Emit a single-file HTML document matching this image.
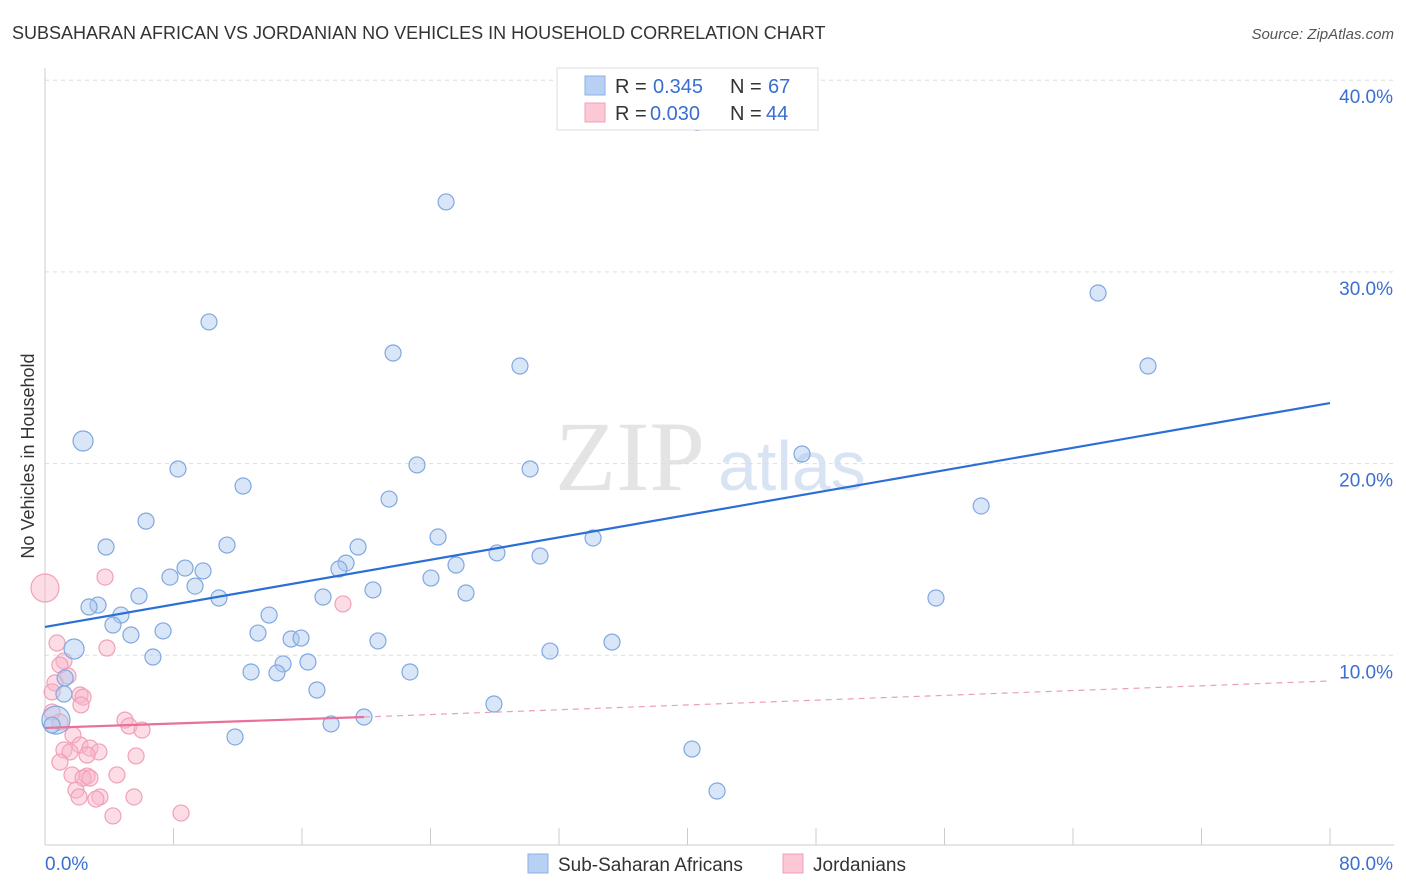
<!DOCTYPE html>
<html><head><meta charset="utf-8"><style>
body{margin:0;background:#fff;font-family:"Liberation Sans",sans-serif;}
svg{display:block}
</style></head><body>
<svg id="chart" width="1406" height="892">
<text x="12" y="39" font-size="18" fill="#333">SUBSAHARAN AFRICAN VS JORDANIAN NO VEHICLES IN HOUSEHOLD CORRELATION CHART</text>
<text x="1394" y="39" font-size="15" fill="#555" font-style="italic" text-anchor="end">Source: ZipAtlas.com</text>
<text x="34" y="456" font-size="18" fill="#333" text-anchor="middle" transform="rotate(-90 34 456)">No Vehicles in Household</text>
<text x="555" y="490" font-size="100" fill="#e4e4e4" font-family="Liberation Serif">ZIP</text>
<text x="718" y="490" font-size="70" fill="#d8e4f4">atlas</text>
<g id="grid"></g><g id="marks"></g>
<g>
<rect x="557" y="68" width="261" height="62" fill="#fff" stroke="#ddd"/>
<rect x="585" y="76" width="20" height="19" fill="#b8d0f4" stroke="#8ab0e8"/>
<text x="615" y="93" font-size="20" fill="#333">R =</text><text x="653" y="93" font-size="20" fill="#3a6fd0">0.345</text>
<text x="730" y="93" font-size="20" fill="#333">N =</text><text x="768" y="93" font-size="20" fill="#3a6fd0">67</text>
<rect x="585" y="103" width="20" height="19" fill="#fcc8d6" stroke="#f0a0b8"/>
<text x="615" y="120" font-size="20" fill="#333">R =</text><text x="650" y="120" font-size="20" fill="#3a6fd0">0.030</text>
<text x="730" y="120" font-size="20" fill="#333">N =</text><text x="766" y="120" font-size="20" fill="#3a6fd0">44</text>
</g>
<g>
<rect x="528" y="854" width="20" height="19" fill="#b8d0f4" stroke="#8ab0e8"/>
<text x="558" y="871" font-size="19" fill="#333">Sub-Saharan Africans</text>
<rect x="783" y="854" width="20" height="19" fill="#fcc8d6" stroke="#f0a0b8"/>
<text x="813" y="871" font-size="19" fill="#333">Jordanians</text>
</g>
</svg>
<script>
const xTicks=[0,8,16,24,32,40,48,56,64,72,80];
const yTicks=[10,20,30,40];
const blueX=[2.37,10.21,24.97,40.6,21.67,29.57,65.56,68.67,8.28,12.33,23.16,30.2,47.13,58.28,21.42,6.29,3.8,11.33,24.47,34.12,19.49,28.14,30.82,18.74,18.3,25.59,8.72,9.84,7.78,24.03,9.34,20.42,26.21,10.83,17.31,5.85,55.47,3.3,2.74,4.73,13.95,4.23,7.35,5.35,13.26,15.32,15.94,20.73,35.3,31.44,1.81,6.72,14.82,16.37,12.83,14.44,22.72,1.25,16.93,1.18,27.95,19.86,17.81,0.68,0.44,11.83,40.28,41.84];
const blueY=[21.18,27.39,33.65,37.8,25.77,25.09,28.9,25.09,19.72,18.83,19.93,19.72,20.5,17.79,18.15,17.0,15.65,15.75,16.17,16.12,15.65,15.34,15.18,14.81,14.5,14.71,14.55,14.4,14.08,14.03,13.61,13.41,13.25,12.99,13.04,13.09,12.99,12.62,12.52,12.1,12.1,11.58,11.27,11.06,11.16,10.85,10.9,10.75,10.69,10.22,10.33,9.91,9.55,9.65,9.13,9.08,9.13,8.82,8.19,7.98,7.46,6.78,6.42,6.62,6.36,5.74,5.11,2.92];
const pinkX=[0,3.74,18.55,0.75,3.86,1.18,0.93,1.43,0.62,2.18,2.37,0.44,2.24,0.44,0.93,4.98,5.23,6.04,1.74,2.18,2.8,1.18,1.56,3.36,2.62,5.67,0.93,4.48,1.68,2.62,2.37,2.8,1.93,2.12,3.42,3.17,5.54,8.47,4.23];
const pinkY=[13.51,14.08,12.68,10.64,10.38,9.7,9.49,8.92,8.56,7.93,7.82,8.09,7.41,7.04,6.52,6.62,6.31,6.1,5.84,5.32,5.16,5.06,4.96,4.96,4.8,4.75,4.43,3.76,3.76,3.7,3.6,3.6,2.97,2.61,2.61,2.5,2.61,1.77,1.62];
const blueTrend=[0,11.48,80,23.16];
const pinkTrend=[0,6.21,19.86,6.78,80,8.66];
const X=v=>45+v*1285/80, Y=v=>847-v*19.17;
const NS='http://www.w3.org/2000/svg';
const grid=document.getElementById('grid'), marks=document.getElementById('marks');
function mk(tag,attrs,parent){const e=document.createElementNS(NS,tag);for(const k in attrs)e.setAttribute(k,attrs[k]);parent.appendChild(e);return e;}
yTicks.forEach(t=>{
 const l=mk('line',{x1:45,x2:1394,y1:Y(t),y2:Y(t),stroke:'#ddd','stroke-dasharray':'4,4'},grid);
 
 
 const tx=mk('text',{x:1393,y:Y(t)+23,'font-size':19,fill:'#3a6fd0','text-anchor':'end'},grid);
 tx.textContent=t.toFixed(1)+'%';
 
 
});
const ax=mk('line',{x1:45,x2:1394,y1:845,y2:845,stroke:'#ccc'},grid);


const ay=mk('line',{x1:45,x2:45,y1:68,y2:845,stroke:'#ccc'},grid);


xTicks.forEach(t=>{
 const l=mk('line',{x1:X(t),x2:X(t),y1:828,y2:845,stroke:'#ccc'},grid);
 
 
});
[[0,'start',45],[80,'end',1393]].forEach(([t,a,px])=>{
 const tx=mk('text',{x:px,y:870,'font-size':19,fill:'#3a6fd0','text-anchor':a},grid);
 tx.textContent=t.toFixed(1)+'%';
 
 
});
pinkX.forEach((x,i)=>{
 const c=mk('circle',{cx:X(x),cy:Y(pinkY[i]),r:i==0?14:8,fill:'rgba(248,180,200,0.45)',stroke:'#f0a0b8','stroke-width':1.2},marks);
 
 
});
blueX.forEach((x,i)=>{
 const big=(i==0||i==50||i==63);
 const c=mk('circle',{cx:X(x),cy:Y(blueY[i]),r:i==63?14:(big?10:8),fill:'rgba(170,200,240,0.45)',stroke:'#7fa8e0','stroke-width':1.2},marks);
 
 
});
const bl=mk('line',{x1:X(blueTrend[0]),y1:Y(blueTrend[1]),x2:X(blueTrend[2]),y2:Y(blueTrend[3]),stroke:'#2b6fd6','stroke-width':2.2},marks);


const pl=mk('line',{x1:X(pinkTrend[0]),y1:Y(pinkTrend[1]),x2:X(pinkTrend[2]),y2:Y(pinkTrend[3]),stroke:'#e8709a','stroke-width':2.2},marks);


const pd=mk('line',{x1:X(pinkTrend[2]),y1:Y(pinkTrend[3]),x2:X(pinkTrend[4]),y2:Y(pinkTrend[5]),stroke:'#e8a0b8','stroke-width':1.2,'stroke-dasharray':'6,5'},marks);


</script>
</body></html>
